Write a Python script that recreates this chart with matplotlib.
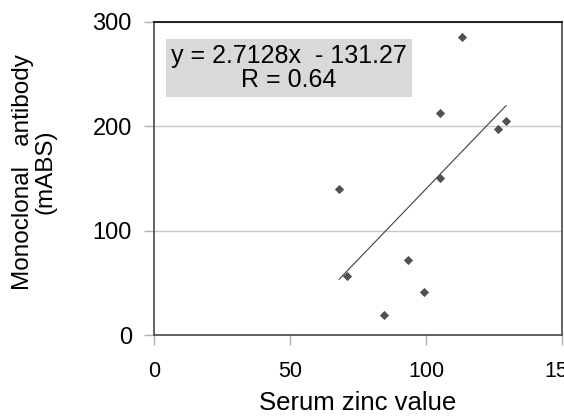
import numpy as np
import matplotlib.pyplot as plt

# Data
zinc = [113.4, 105.3, 129.4, 126.6, 105.3, 68.1, 71.1, 93.4, 99.3, 84.5]
antibody = [286, 213, 205, 197, 150, 140, 57, 72, 41, 19]

slope = 2.7128
intercept = -131.27
r_value = 0.64

x_ticks = [0, 50, 100, 150]
y_ticks = [0, 100, 200, 300]

fig = plt.figure(figsize=(5.64, 4.16), dpi=100)
ax = fig.add_axes([154/564, 81/416, 408/564, 313/416])

ax.set_xlim(0, 150)
ax.set_ylim(0, 300)

ax.grid(axis="y", color="#c8c8c8", linewidth=1.0)
ax.set_axisbelow(True)

# trend line over the data range
xl = np.array([min(zinc), max(zinc)])
ax.plot(xl, slope*xl + intercept, color="#404040", linewidth=0.8)

ax.scatter(zinc, antibody, marker="D", s=22, color="#505050", zorder=3, linewidths=0)

for s in ["left", "bottom", "right"]:
    ax.spines[s].set_color("#555555")
    ax.spines[s].set_linewidth(1.3)
ax.spines["top"].set_color("#111111")
ax.spines["top"].set_linewidth(1.3)

ax.set_xticks(x_ticks)
ax.set_yticks(y_ticks)
ax.set_yticklabels([str(v) for v in y_ticks], fontsize=17, family="Liberation Sans")
ax.set_xticklabels([str(v) for v in x_ticks], fontsize=15.5, family="Liberation Sans")
ax.tick_params(axis="both", direction="out", length=7, width=1, color="#b0b0b0")
ax.tick_params(axis="y", pad=9)
ax.tick_params(axis="x", pad=12)

ax.set_xlabel("Serum zinc value", fontsize=18.5, family="Liberation Sans")
ax.xaxis.set_label_coords(0.5, -0.18)
ax.set_ylabel("Monoclonal   antibody\n(mABS)", fontsize=17.5, family="Liberation Sans",
              linespacing=1.0)
ax.yaxis.set_label_coords(-0.24, 0.52)

eq = "y = %.4fx  - %.2f\nR = %.2f" % (slope, -intercept, r_value)
ax.text(0.33, 0.852, eq, transform=ax.transAxes, ha="center", va="center",
        fontsize=18, family="Liberation Sans", linespacing=1.0,
        bbox=dict(boxstyle="square,pad=0.2", facecolor="#d9d9d9", edgecolor="none"))

fig.savefig("out.png", dpi=100)
